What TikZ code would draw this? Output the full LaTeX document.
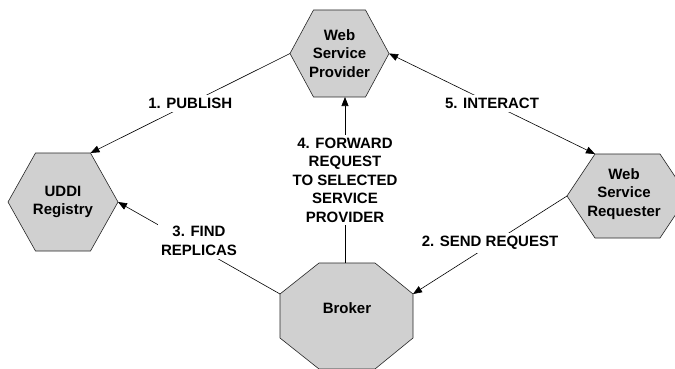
\documentclass[tikz,border=0pt]{standalone}
\usepackage{fontspec}
\setmainfont{Liberation Sans}
\usetikzlibrary{arrows.meta}
\definecolor{hexgray}{RGB}{208,208,208}

\begin{document}
\begin{tikzpicture}[x=1pt,y=-1pt]

    % styles
    \tikzstyle{shell} = [draw=black!85,line width=0.6pt,fill=hexgray]
    \tikzstyle{nodetext} = [font=\fontsize{15}{18.5}\selectfont\bfseries,align=center,inner sep=0pt]
    \tikzstyle{lbl} = [nodetext,fill=white,inner sep=3pt]
    \tikzstyle{flow} = [draw=black,line width=0.6pt,-{Triangle[length=9pt,width=7pt]}]
    \tikzstyle{twoway} = [flow,{Triangle[length=9pt,width=7pt]}-{Triangle[length=9pt,width=7pt]}]

    \useasboundingbox (0,0) rectangle (675,369);
    \clip (0,0) rectangle (675,369);

    % provider
    \path[shell] (313.5,10) -- (365.5,10) -- (389,53.5) coordinate (provE)
        -- (365.5,97) -- (313.5,97) -- (290,53.5) coordinate (provW) -- cycle;
    \coordinate (provS) at (345,97);
    \node[nodetext] (prov) at (339.5,53.5) {Web\\Service\\Provider};

    % registry
    \path[shell] (35.5,153) -- (90.5,153) coordinate (uddiNE) -- (118,202) coordinate (uddiE)
        -- (90.5,251) -- (35.5,251) -- (8,202) -- cycle;
    \node[nodetext] (uddi) at (63,202) {UDDI\\Registry};

    % requester
    \path[shell] (595,154) coordinate (reqNW) -- (660,154) -- (688,196)
        -- (660,238) -- (595,238) -- (567,196) coordinate (reqW) -- cycle;
    \node[nodetext] (req) at (624,194) {Web\\Service\\Requester};

    % broker
    \path[shell] (319,263) -- (375,263) -- (413,294) coordinate (brokNE) -- (413,338)
        -- (375,369) -- (319,369) -- (280,338) -- (280,294) coordinate (brokNW) -- cycle;
    \coordinate (brokN) at (345,263);
    \node[nodetext] (brok) at (347,308) {Broker};

    % messages
    \path[flow] (provW) -- (uddiNE) node[lbl,midway] {1. PUBLISH};
    \path[flow] (reqW) -- (brokNE) node[lbl,midway,yshift=2pt] {2. SEND REQUEST};
    \path[flow] (brokNW) -- (uddiE) node[lbl,midway,yshift=7pt] {3. FIND\\REPLICAS};
    \path[flow] (brokN) -- (provS)
        node[lbl,midway] {4. FORWARD\\REQUEST\\TO SELECTED\\SERVICE\\PROVIDER};
    \path[twoway] (provE) -- (reqNW) node[lbl,midway] {5. INTERACT};
\end{tikzpicture}
\end{document}
